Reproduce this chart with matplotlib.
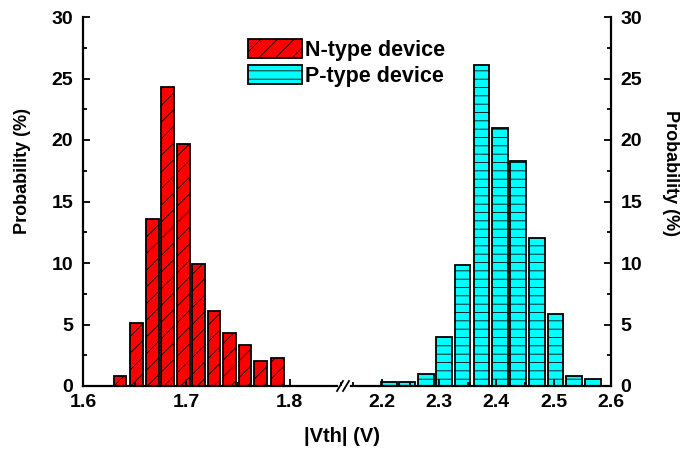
import numpy as np
import matplotlib
matplotlib.use('Agg')
import matplotlib.pyplot as plt
from matplotlib.patches import Patch
from matplotlib.ticker import MultipleLocator

plt.rcParams['font.family'] = ['Liberation Sans', 'DejaVu Sans']
plt.rcParams['font.weight'] = 'bold'
plt.rcParams['hatch.linewidth'] = 0.6

# threshold voltage histograms (bin centres in V, probability in %)
vth_n = [1.636, 1.652, 1.667, 1.682, 1.697, 1.712, 1.727, 1.742, 1.757, 1.772, 1.788]
prob_n = [0.84, 5.15, 13.6, 24.3, 19.7, 9.95, 6.1, 4.3, 3.3, 2.05, 2.25]

vth_p = [2.212, 2.244, 2.277, 2.309, 2.341, 2.374, 2.406, 2.438, 2.471, 2.503, 2.535, 2.568]
prob_p = [0.35, 0.35, 1.0, 4.0, 9.85, 26.1, 20.95, 18.3, 12.0, 5.85, 0.85, 0.55]

left_ticks = [1.6, 1.7, 1.8]
right_ticks = [2.2, 2.3, 2.4, 2.5, 2.6]

fig = plt.figure(figsize=(6.95, 4.5), dpi=100)
W, H = 695, 450
x0, xb, x1 = 83, 345, 611
y0, y1 = 386, 17
ax1 = fig.add_axes([x0 / W, 1 - y0 / H, (xb - x0) / W, (y0 - y1) / H])
ax2 = fig.add_axes([xb / W, 1 - y0 / H, (x1 - xb) / W, (y0 - y1) / H])

ax1.bar(vth_n, prob_n, width=0.0122, color='#ff0000', edgecolor='black',
        linewidth=1.3, hatch='//', label='N-type device')
ax2.bar(vth_p, prob_p, width=0.0275, color='#00ffff', edgecolor='black',
        linewidth=1.3, hatch='--', label='P-type device')

ax1.set_xlim(1.6, 1.6 + (xb - x0) / 1033)
ax2.set_xlim(2.6 - (x1 - xb) / 573, 2.6)
for ax in (ax1, ax2):
    ax.set_ylim(0, 30)
    ax.yaxis.set_major_locator(MultipleLocator(5))
    ax.yaxis.set_minor_locator(MultipleLocator(2.5))
    ax.xaxis.set_minor_locator(MultipleLocator(0.05))
    ax.spines['top'].set_visible(False)
    for s in ax.spines.values():
        s.set_linewidth(1.6)
    ax.tick_params(which='both', direction='in', width=1.3, labelsize=14)
    ax.tick_params(which='major', length=5)
    ax.tick_params(which='minor', length=3)
    ax.tick_params(axis='x', pad=6)
    ax.tick_params(axis='y', pad=7)

ax1.set_xticks(left_ticks)
ax1.set_xticklabels([f'{t:.1f}' for t in left_ticks])
ax1.spines['right'].set_visible(False)
ax1.spines['bottom'].set_bounds(1.6, 1.6 + (xb - 8 - x0) / 1033)

ax2.set_xticks(right_ticks)
ax2.set_xticklabels([f'{t:.1f}' for t in right_ticks])
ax2.spines['left'].set_visible(False)
ax2.spines['bottom'].set_bounds(2.6 - (x1 - xb - 6) / 573, 2.6)
ax2.yaxis.tick_right()
ax2.tick_params(axis='y', which='both', left=False)

# axis break marks
for dx in (-5, 1):
    fig.add_artist(plt.Line2D([(xb + dx - 3) / W, (xb + dx + 3) / W],
                              [1 - (y0 + 5) / H, 1 - (y0 - 5) / H],
                              color='black', linewidth=1.3))

fig.text(23 / W, 1 - 171 / H, 'Probability (%)', rotation=90,
         ha='center', va='center', fontsize=13, fontweight='bold')
fig.text(670 / W, 1 - 173 / H, 'Probability (%)', rotation=-90,
         ha='center', va='center', fontsize=13, fontweight='bold')
fig.text(342 / W, 1 - 437 / H, '|Vth| (V)', ha='center', va='center',
         fontsize=14.5, fontweight='bold')

handles = [Patch(facecolor='#ff0000', edgecolor='black', hatch='//', linewidth=1.3),
           Patch(facecolor='#00ffff', edgecolor='black', hatch='--', linewidth=1.3)]
fig.legend(handles, ['N-type device', 'P-type device'], loc='upper left',
           bbox_to_anchor=(229 / W, 1 - 20 / H), frameon=False,
           handlelength=2.5, handleheight=0.95, labelspacing=0.2,
           handletextpad=0.15, prop={'size': 15.5, 'weight': 'bold'})

fig.savefig('out.png', dpi=100)
